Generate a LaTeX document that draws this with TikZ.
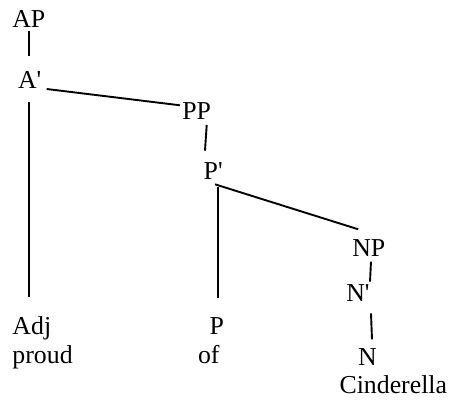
\documentclass[tikz,border=0pt]{standalone}
\usepackage{fontspec}
\setmainfont{Liberation Serif}
\tikzset{
  lbl/.style={anchor=base west, inner sep=0pt, outer sep=0pt, font=\fontsize{25.8}{30}\selectfont},
  branch/.style={line width=1.9pt, line cap=butt}
}
\begin{document}
\begin{tikzpicture}[x=1pt,y=1pt]
\useasboundingbox (0,0) rectangle (451,-400);
\node[lbl] (AP)   at (12.3,-27.7)  {AP};
\node[lbl] (A1)   at (18.0,-88.3)  {A\textquotesingle};
\node[lbl] (PP)   at (182.4,-119.3) {PP};
\node[lbl] (P1)   at (203.7,-179)    {P\textquotesingle};
\node[lbl] (NP)   at (352.3,-256.7) {NP};
\node[lbl] (N1)   at (346.3,-301.7) {N\textquotesingle};
\node[lbl] (N)    at (358.0,-365.7) {N};
\node[lbl] (cin)  at (339.6,-393.3)  {Cinderella};
\node[lbl] (Adj)  at (12.5,-334)   {Adj};
\node[lbl] (proud) at (12.5,-363.3) {proud};
\node[lbl] (P)    at (209.7,-334)    {P};
\node[lbl] (of)   at (198.0,-363.3) {of};
\draw[branch] ([shift={(16.4,-3)}]AP.base west) -- ([shift={(10.7,32.6)}]A1.base west);
\draw[branch] ([shift={(28.7,-0.7)}]A1.base west) -- ([shift={(-2.4,14)}]PP.base west);
\draw[branch] ([shift={(24.3,-5.7)}]PP.base west) -- ([shift={(1.3,28.3)}]P1.base west);
\draw[branch] ([shift={(11.3,-13.4)}]A1.base west) -- ([shift={(16.8,36.7)}]Adj.base west);
\draw[branch] ([shift={(14.6,-7.7)}]P1.base west) -- ([shift={(8.6,35.7)}]P.base west);
\draw[branch] ([shift={(11.3,-5.3)}]P1.base west) -- ([shift={(6,27.4)}]NP.base west);
\draw[branch] ([shift={(18.7,-5)}]NP.base west) -- ([shift={(23.7,20)}]N1.base west);
\draw[branch] ([shift={(24.7,-11.6)}]N1.base west) -- ([shift={(14,26.4)}]N.base west);
\end{tikzpicture}
\end{document}
